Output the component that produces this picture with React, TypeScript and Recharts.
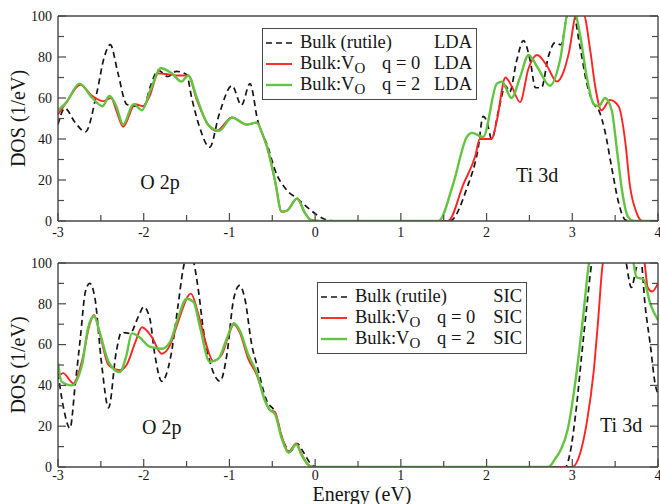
import React from "react";
import { LineChart, Line, XAxis, YAxis, Legend, ReferenceDot } from "recharts";

type Pt = [number, number];

// DOS curves, [energy (eV), DOS (1/eV)]
const ldaBulk: Pt[] = [
    [-3, 47], [-2.92, 55], [-2.8, 48], [-2.68, 43.5], [-2.55, 62], [-2.46, 80], [-2.39, 86],
    [-2.3, 72], [-2.2, 57], [-2.1, 56], [-2.0, 56], [-1.92, 66], [-1.83, 73.5], [-1.72, 70.5],
    [-1.62, 73], [-1.5, 71.5], [-1.44, 60], [-1.35, 46], [-1.23, 36], [-1.12, 52], [-0.97, 66],
    [-0.86, 56.5], [-0.76, 67], [-0.67, 49], [-0.55, 36], [-0.47, 25], [-0.33, 15], [-0.21, 11],
    [-0.1, 7], [0.02, 3], [0.14, 0.5], [0.25, 0], [1.57, 0], [1.77, 16], [1.9, 35], [1.96, 51],
    [2.0, 49], [2.06, 40], [2.14, 54], [2.22, 66], [2.27, 63], [2.35, 78], [2.43, 88], [2.51, 78],
    [2.57, 65], [2.64, 65], [2.72, 80], [2.8, 87], [2.87, 86], [2.95, 101], [3.01, 101], [3.09, 85],
    [3.17, 67], [3.25, 57], [3.31, 54], [3.38, 44], [3.46, 26], [3.54, 9], [3.62, 0.5], [3.7, 0],
    [4, 0],
];

const ldaVoQ0: Pt[] = [
    [-3, 52], [-2.9, 58], [-2.74, 66.5], [-2.6, 61], [-2.47, 58.5], [-2.38, 60], [-2.32, 54],
    [-2.24, 46], [-2.1, 57], [-2.01, 56], [-1.93, 61], [-1.83, 72], [-1.71, 71.5], [-1.6, 71],
    [-1.48, 71], [-1.38, 59], [-1.25, 47], [-1.15, 44], [-0.97, 50.5], [-0.8, 47], [-0.68, 48],
    [-0.62, 43], [-0.56, 36], [-0.47, 20], [-0.39, 4.5], [-0.33, 5], [-0.21, 11], [-0.12, 4],
    [-0.05, 0.5], [0.05, 0], [1.55, 0], [1.73, 18], [1.87, 32], [1.92, 40], [2.06, 40], [2.12, 49],
    [2.22, 70], [2.29, 66], [2.39, 58], [2.49, 74.5], [2.59, 81], [2.7, 76], [2.82, 68], [2.9, 73],
    [2.96, 82], [3.05, 101], [3.13, 101], [3.21, 83], [3.27, 65], [3.34, 54], [3.44, 59], [3.54, 56],
    [3.62, 38], [3.67, 18], [3.75, 4], [3.82, 0], [4, 0],
];

const ldaVoQ2: Pt[] = [
    [-3, 54], [-2.9, 58], [-2.75, 67], [-2.6, 60], [-2.48, 56], [-2.4, 61], [-2.32, 56],
    [-2.24, 47], [-2.12, 57], [-2.02, 54], [-1.92, 64], [-1.8, 74.5], [-1.67, 72], [-1.56, 68],
    [-1.48, 71], [-1.38, 60], [-1.25, 47], [-1.12, 44], [-0.97, 50.5], [-0.8, 47], [-0.68, 48],
    [-0.62, 43], [-0.56, 36], [-0.47, 20], [-0.39, 4.5], [-0.33, 5], [-0.21, 11], [-0.12, 4],
    [-0.05, 0.5], [0.05, 0], [1.44, 0], [1.61, 18], [1.77, 41], [1.83, 43], [1.96, 41], [2.12, 67],
    [2.18, 68], [2.29, 60], [2.39, 70], [2.49, 81], [2.6, 74.5], [2.74, 66], [2.86, 79], [2.95, 101],
    [3.03, 101], [3.09, 91], [3.17, 70], [3.25, 57], [3.31, 56], [3.38, 60], [3.46, 54], [3.52, 35],
    [3.58, 15], [3.65, 2], [3.72, 0], [4, 0],
];

const sicBulk: Pt[] = [
    [-3, 46], [-2.94, 30], [-2.86, 19], [-2.8, 40], [-2.74, 63], [-2.68, 86], [-2.63, 90],
    [-2.57, 83], [-2.49, 50], [-2.41, 29], [-2.32, 56.5], [-2.26, 66], [-2.16, 65.5], [-2.06, 74],
    [-2.0, 78.5], [-1.93, 73], [-1.87, 55], [-1.79, 42], [-1.69, 53], [-1.6, 79], [-1.54, 97],
    [-1.48, 106], [-1.42, 101], [-1.36, 86], [-1.3, 66], [-1.23, 52], [-1.11, 42], [-1.03, 55],
    [-0.95, 82.5], [-0.88, 89], [-0.82, 82.5], [-0.74, 60], [-0.68, 50], [-0.56, 32], [-0.47, 27],
    [-0.39, 15], [-0.29, 7.5], [-0.21, 11.5], [-0.14, 7.5], [-0.06, 2], [0.02, 0], [2.92, 0],
    [2.97, 6], [3.05, 30], [3.11, 55], [3.17, 79], [3.23, 101], [3.42, 125], [3.62, 102],
    [3.69, 88], [3.75, 98], [3.8, 101], [3.85, 79], [3.91, 60], [3.97, 40], [4, 36],
];

const sicVoQ0: Pt[] = [
    [-3, 44], [-2.94, 46], [-2.82, 41], [-2.72, 52], [-2.63, 70], [-2.58, 74.5], [-2.51, 65],
    [-2.41, 50], [-2.28, 47.5], [-2.2, 50], [-2.1, 61], [-2.02, 68.5], [-1.91, 64], [-1.79, 55.5],
    [-1.69, 60], [-1.6, 71], [-1.45, 85], [-1.36, 74.5], [-1.27, 60], [-1.19, 52], [-1.09, 55],
    [-1.01, 64.5], [-0.95, 70], [-0.88, 66], [-0.78, 53], [-0.68, 45], [-0.58, 32], [-0.53, 28],
    [-0.47, 27], [-0.39, 15], [-0.31, 7.5], [-0.22, 11.5], [-0.16, 6.5], [-0.08, 1], [-0.02, 0],
    [3.0, 0], [3.09, 6.5], [3.17, 22], [3.25, 47], [3.3, 71], [3.36, 101], [3.6, 125], [3.84, 101],
    [3.88, 88], [3.93, 86], [4, 90],
];

const sicVoQ2: Pt[] = [
    [-3, 51], [-2.96, 42], [-2.84, 40], [-2.72, 50], [-2.65, 68], [-2.58, 74], [-2.51, 65.5],
    [-2.41, 51.5], [-2.28, 46.5], [-2.2, 55], [-2.14, 65.5], [-2.06, 64], [-1.93, 59], [-1.79, 58],
    [-1.69, 61.5], [-1.6, 73], [-1.5, 82.5], [-1.42, 81], [-1.34, 68], [-1.23, 51.5], [-1.13, 53],
    [-1.03, 63], [-0.95, 70.5], [-0.88, 67], [-0.78, 55], [-0.68, 46], [-0.58, 32], [-0.53, 28],
    [-0.47, 26], [-0.39, 14], [-0.31, 7], [-0.22, 11], [-0.16, 6], [-0.08, 1], [-0.03, 0],
    [2.72, 0], [2.8, 4], [2.86, 8], [2.95, 19], [3.01, 34], [3.07, 53], [3.13, 75], [3.2, 101],
    [3.45, 125], [3.71, 101], [3.75, 93], [3.83, 92], [3.91, 80], [4, 72],
];

const xTicks = [-3, -2.5, -2, -1.5, -1, -0.5, 0, 0.5, 1, 1.5, 2, 2.5, 3, 3.5, 4];
const yTicks = [0, 10, 20, 30, 40, 50, 60, 70, 80, 90, 100];

const FRAME = "#474747";
const INK = "#151515";
const RED = "#ff2424";
const GREEN = "#62c440";
const FONT = '"Liberation Serif", "Times New Roman", serif';

type Series = {
    key: string;
    name: string;
    defect: boolean;
    q?: string;
    color: string;
    width: number;
    dash?: string;
    points: Pt[];
};

const makeSeries = (bulk: Pt[], q0: Pt[], q2: Pt[]): Series[] => [
    { key: "bulk", name: "Bulk (rutile)", defect: false, color: INK, width: 1.7, dash: "6 4", points: bulk },
    { key: "q0", name: "Bulk:V", defect: true, q: "q = 0", color: RED, width: 1.9, points: q0 },
    { key: "q2", name: "Bulk:V", defect: true, q: "q = 2", color: GREEN, width: 2.4, points: q2 },
];

const toRows = (pts: Pt[]) => pts.map(([e, dos]) => ({ e, dos }));

// tick marks point into the frame, labels only on whole numbers
const BottomTick = ({ x, y, payload, gap }: any) => {
    const major = Number.isInteger(payload.value);
    return (
        <g>
            <line x1={x} x2={x} y1={y} y2={y - (major ? 8 : 6)} stroke={FRAME} strokeWidth={1.2} />
            {major && (
                <text x={x} y={y + gap} textAnchor="middle" fontSize={14} style={{ fontFamily: FONT }} fill={INK}>
                    {payload.value}
                </text>
            )}
        </g>
    );
};

const TopTick = ({ x, y, payload }: any) => {
    const major = Number.isInteger(payload.value);
    return <line x1={x} x2={x} y1={y} y2={y + (major ? 8 : 6)} stroke={FRAME} strokeWidth={1.2} />;
};

const LeftTick = ({ x, y, payload }: any) => {
    const major = payload.value % 20 === 0;
    return (
        <g>
            <line x1={x} x2={x + (major ? 8 : 6)} y1={y} y2={y} stroke={FRAME} strokeWidth={1.2} />
            {major && (
                <text x={x - 6} y={y} dy="0.34em" textAnchor="end" fontSize={14} style={{ fontFamily: FONT }} fill={INK}>
                    {payload.value}
                </text>
            )}
        </g>
    );
};

const RightTick = ({ x, y, payload }: any) => {
    const major = payload.value % 20 === 0;
    return <line x1={x} x2={x - (major ? 8 : 6)} y1={y} y2={y} stroke={FRAME} strokeWidth={1.2} />;
};

const LegendBox = ({ series, method, width }: { series: Series[]; method: string; width: number }) => (
    <div
        style={{
            position: "relative",
            width,
            height: 72,
            boxSizing: "border-box",
            border: `1.3px solid ${FRAME}`,
            background: "#fff",
            fontFamily: FONT,
            fontSize: 18.5,
            color: INK,
        }}
    >
        {series.map((s, i) => (
            <div key={s.key} style={{ position: "absolute", left: 0, right: 0, top: 2.5 + i * 21, height: 21, lineHeight: "21px", whiteSpace: "nowrap" }}>
                <svg width={26} height={4} style={{ position: "absolute", left: 3, top: 9 }}>
                    <line x1={0} x2={26} y1={2} y2={2} stroke={s.color} strokeWidth={s.width} strokeDasharray={s.dash} />
                </svg>
                <span style={{ position: "absolute", left: 37 }}>
                    {s.name}
                    {s.defect && <sub style={{ fontSize: 15, verticalAlign: "-4px" }}>O</sub>}
                </span>
                {s.q && <span style={{ position: "absolute", left: 119 }}>{s.q}</span>}
                <span style={{ position: "absolute", right: 4 }}>{method}</span>
            </div>
        ))}
    </div>
);

type Note = { text: string; e: number; dos: number };

type PanelProps = {
    height: number;
    top: number;
    bottom: number;
    series: Series[];
    method: string;
    legendAt: { left: number; top: number; width: number };
    tickGap: number;
    notes: Note[];
    xTitle?: string;
};

// axes are 1px thick so that they still render; margins leave the plot box where it belongs
const Panel = ({ height, top, bottom, series, method, legendAt, tickGap, notes, xTitle }: PanelProps) => (
    <LineChart width={660} height={height} margin={{ top: top - 1, right: 1, bottom: bottom - 1, left: 57 }}>
        <XAxis
            dataKey="e"
            type="number"
            domain={[-3, 4]}
            allowDataOverflow
            ticks={xTicks}
            interval={0}
            height={1}
            tickSize={0}
            tickMargin={0}
            tickLine={false}
            axisLine={{ stroke: FRAME, strokeWidth: 1.4 }}
            tick={(p: any) => <BottomTick {...p} gap={tickGap} />}
            label={
                xTitle
                    ? { value: xTitle, position: "bottom", offset: 19, dx: 4, fontSize: 20, fontFamily: FONT, fill: INK }
                    : undefined
            }
        />
        <XAxis
            xAxisId="top"
            orientation="top"
            type="number"
            domain={[-3, 4]}
            allowDataOverflow
            ticks={xTicks}
            interval={0}
            height={1}
            tickSize={0}
            tickMargin={0}
            tickLine={false}
            axisLine={{ stroke: FRAME, strokeWidth: 1.4 }}
            tick={(p: any) => <TopTick {...p} />}
        />
        <YAxis
            type="number"
            domain={[0, 100]}
            allowDataOverflow
            ticks={yTicks}
            interval={0}
            width={1}
            tickSize={0}
            tickMargin={0}
            tickLine={false}
            axisLine={{ stroke: FRAME, strokeWidth: 1.4 }}
            tick={(p: any) => <LeftTick {...p} />}
            label={{
                value: "DOS (1/eV)",
                angle: -90,
                position: "insideLeft",
                offset: -39,
                fontSize: 20,
                fontFamily: FONT,
                fill: INK,
                style: { textAnchor: "middle", fontFamily: FONT },
            }}
        />
        <YAxis
            yAxisId="right"
            orientation="right"
            type="number"
            domain={[0, 100]}
            allowDataOverflow
            ticks={yTicks}
            interval={0}
            width={1}
            tickSize={0}
            tickMargin={0}
            tickLine={false}
            axisLine={{ stroke: FRAME, strokeWidth: 1.4 }}
            tick={(p: any) => <RightTick {...p} />}
        />
        {series.map((s) => (
            <Line
                key={s.key}
                data={toRows(s.points)}
                dataKey="dos"
                type="monotone"
                stroke={s.color}
                strokeWidth={s.width}
                strokeDasharray={s.dash}
                dot={false}
                activeDot={false}
                isAnimationActive={false}
            />
        ))}
        {notes.map((n) => (
            <ReferenceDot
                key={n.text}
                x={n.e}
                y={n.dos}
                r={0}
                fill="none"
                stroke="none"
                label={{ value: n.text, position: "center", fontSize: 20, fontFamily: FONT, fill: INK }}
            />
        ))}
        <Legend
            layout="vertical"
            align="center"
            verticalAlign="middle"
            wrapperStyle={{ left: legendAt.left, top: legendAt.top, width: legendAt.width }}
            content={() => <LegendBox series={series} method={method} width={legendAt.width} />}
        />
    </LineChart>
);

const App = () => (
    <div style={{ position: "absolute", left: 0, top: 0, width: 660, height: 504, background: "#fff", overflow: "hidden" }}>
        <Panel
            height={250}
            top={16}
            bottom={29}
            series={makeSeries(ldaBulk, ldaVoQ0, ldaVoQ2)}
            method="LDA"
            legendAt={{ left: 262, top: 28, width: 215 }}
            tickGap={16}
            notes={[
                { text: "O 2p", e: -1.81, dos: 19 },
                { text: "Ti 3d", e: 2.59, dos: 22.5 },
            ]}
        />
        <Panel
            height={254}
            top={13}
            bottom={37}
            series={makeSeries(sicBulk, sicVoQ0, sicVoQ2)}
            method="SIC"
            legendAt={{ left: 317, top: 32, width: 210 }}
            tickGap={13}
            notes={[
                { text: "O 2p", e: -1.79, dos: 19.5 },
                { text: "Ti 3d", e: 3.57, dos: 20.5 },
            ]}
            xTitle="Energy (eV)"
        />
    </div>
);

export default App;
